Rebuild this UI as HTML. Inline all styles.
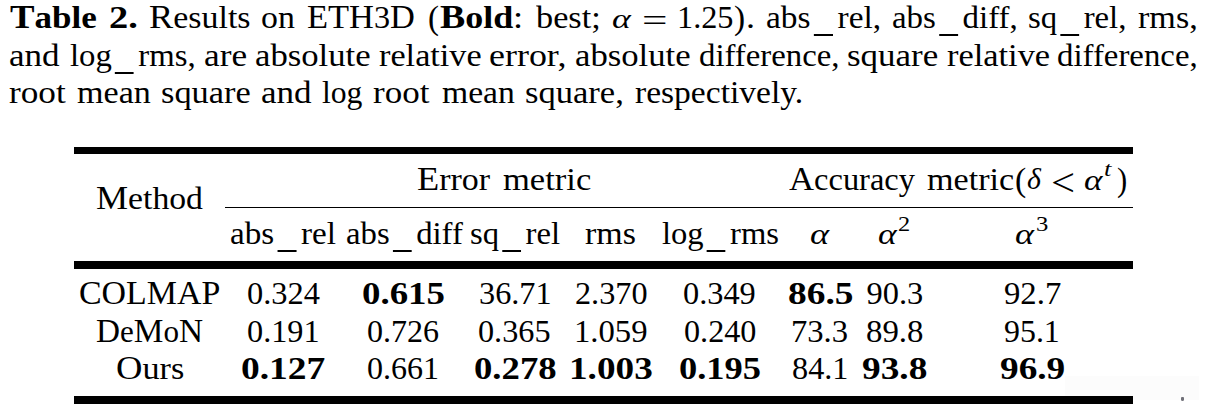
<!DOCTYPE html>
<html><head><meta charset="utf-8"><title>Table 2</title><style>
.w{position:absolute;white-space:pre;line-height:0;font-family:"Liberation Serif",serif;transform-origin:0 0;color:#000}
.b{font-weight:bold}
.i{font-style:italic}
.C{font-size:1.070em}
.b .C{font-size:1.050em}
.u{display:inline-block;width:0.58em;height:0.06em;background:#000;vertical-align:-0.255em;margin:0 0.13em 0 0.1em}
.r{position:absolute;background:#000}html,body{margin:0;padding:0;background:#fff;width:1209px;height:410px;overflow:hidden;position:relative}</style></head><body>
<div style="position:absolute;left:1065px;top:376px;width:134px;height:24px;background:#fcfcfc"></div>
<div class="w b" style="left:9.74px;top:17.00px;font-size:31.4px;transform:scaleX(1.1150);"><span class="C">T</span>able</div>
<div class="w b" style="left:108.85px;top:17.00px;font-size:32.0px;transform:scaleX(1.2000);">2.</div>
<div class="w" style="left:149.22px;top:17.00px;font-size:31.4px;transform:scaleX(1.0812);"><span class="C">R</span>esults</div>
<div class="w" style="left:261.45px;top:18.00px;font-size:31.4px;transform:scaleX(1.0768);">on</div>
<div class="w" style="left:307.07px;top:17.00px;font-size:31.4px;transform:scaleX(1.0255);"><span class="C">ETH</span>3<span class="C">D</span></div>
<div class="w" style="left:428.28px;top:17.05px;font-size:32px;transform:scale(1.0303,1.0655);">(</div>
<div class="w b" style="left:440.03px;top:17.00px;font-size:31.4px;transform:scaleX(1.1476);"><span class="C">B</span>old</div>
<div class="w" style="left:513.00px;top:18.00px;font-size:31.4px;transform:scaleX(1.1586);">:</div>
<div class="w" style="left:536.20px;top:18.00px;font-size:31.4px;transform:scaleX(1.0919);">best;</div>
<div class="w i" style="left:611.58px;top:18.28px;font-size:32px;transform:scale(1.1200,0.8839);">α</div>
<div class="w" style="left:642.21px;top:20.38px;font-size:32px;transform:scaleX(1.4118);">=</div>
<div class="w" style="left:677.14px;top:17.00px;font-size:32.4px;transform:scaleX(0.9962);">1.25</div>
<div class="w" style="left:733.96px;top:17.17px;font-size:32px;transform:scale(1.0424,1.0586);">)</div>
<div class="w" style="left:746.34px;top:17.00px;font-size:32.4px;transform:scaleX(1.1097);">.</div>
<div class="w" style="left:766.40px;top:18.00px;font-size:31.4px;transform:scaleX(1.0635);">abs<span class="u"></span>rel,</div>
<div class="w" style="left:892.22px;top:18.00px;font-size:31.4px;transform:scaleX(1.0493);">abs<span class="u"></span>diff,</div>
<div class="w" style="left:1027.80px;top:18.00px;font-size:31.4px;transform:scaleX(1.0436);">sq<span class="u"></span>rel,</div>
<div class="w" style="left:1138.12px;top:18.00px;font-size:31.4px;transform:scaleX(1.0864);">rms,</div>
<div class="w" style="left:9.04px;top:56.00px;font-size:31.4px;transform:scaleX(1.1168);">and</div>
<div class="w" style="left:69.65px;top:56.00px;font-size:31.4px;transform:scaleX(1.0426);">log<span class="u"></span>rms,</div>
<div class="w" style="left:203.54px;top:56.00px;font-size:31.4px;transform:scaleX(1.1239);">are</div>
<div class="w" style="left:254.96px;top:56.00px;font-size:31.4px;transform:scaleX(1.1057);">absolute</div>
<div class="w" style="left:379.02px;top:56.00px;font-size:31.4px;transform:scaleX(1.0912);">relative</div>
<div class="w" style="left:489.27px;top:56.00px;font-size:31.4px;transform:scaleX(1.1449);">error,</div>
<div class="w" style="left:575.26px;top:56.00px;font-size:31.4px;transform:scaleX(1.1057);">absolute</div>
<div class="w" style="left:698.82px;top:56.00px;font-size:31.4px;transform:scaleX(1.0451);">difference,</div>
<div class="w" style="left:847.21px;top:56.00px;font-size:31.4px;transform:scaleX(1.1140);">square</div>
<div class="w" style="left:946.62px;top:56.00px;font-size:31.4px;transform:scaleX(1.0955);">relative</div>
<div class="w" style="left:1057.42px;top:56.00px;font-size:31.4px;transform:scaleX(1.0459);">difference,</div>
<div class="w" style="left:8.90px;top:93.00px;font-size:31.4px;transform:scaleX(1.1216);">root</div>
<div class="w" style="left:76.92px;top:93.00px;font-size:31.4px;transform:scaleX(1.0856);">mean</div>
<div class="w" style="left:160.93px;top:93.00px;font-size:31.4px;transform:scaleX(1.0951);">square</div>
<div class="w" style="left:260.84px;top:93.00px;font-size:31.4px;transform:scaleX(1.1168);">and</div>
<div class="w" style="left:322.37px;top:93.00px;font-size:31.4px;transform:scaleX(1.0084);">log</div>
<div class="w" style="left:373.40px;top:93.00px;font-size:31.4px;transform:scaleX(1.1156);">root</div>
<div class="w" style="left:442.03px;top:93.00px;font-size:31.4px;transform:scaleX(1.0721);">mean</div>
<div class="w" style="left:525.42px;top:93.00px;font-size:31.4px;transform:scaleX(1.1006);">square,</div>
<div class="w" style="left:634.53px;top:93.00px;font-size:31.4px;transform:scaleX(1.0682);">respectively.</div>
<div class="w" style="left:96.33px;top:198.00px;font-size:31.4px;transform:scaleX(1.0738);"><span class="C">M</span>ethod</div>
<div class="w" style="left:417.32px;top:179.00px;font-size:31.4px;transform:scaleX(1.0823);"><span class="C">E</span>rror</div>
<div class="w" style="left:503.01px;top:180.00px;font-size:31.4px;transform:scaleX(1.1002);">metric</div>
<div class="w" style="left:788.81px;top:179.00px;font-size:31.4px;transform:scaleX(1.0340);"><span class="C">A</span>ccuracy</div>
<div class="w" style="left:926.62px;top:180.00px;font-size:31.4px;transform:scaleX(1.0874);">metric</div>
<div class="w" style="left:1015.25px;top:179.17px;font-size:32px;transform:scale(1.0545,1.0586);">(</div>
<div class="w i" style="left:1026.77px;top:179.45px;font-size:32px;transform:scale(0.9333,0.9407);">δ</div>
<div class="w" style="left:1051.04px;top:182.37px;font-size:32px;transform:scale(1.3311,1.2423);">&lt;</div>
<div class="w i" style="left:1084.30px;top:179.94px;font-size:32px;transform:scale(1.1015,0.8968);">α</div>
<div class="w i" style="left:1104.37px;top:168.78px;font-size:32px;transform:scale(0.8246,0.6476);">t</div>
<div class="w" style="left:1116.74px;top:179.17px;font-size:32px;transform:scale(0.9576,1.0586);">)</div>
<div class="w" style="left:230.01px;top:234.00px;font-size:31.4px;transform:scaleX(1.0565);">abs<span class="u"></span>rel</div>
<div class="w" style="left:345.53px;top:234.00px;font-size:31.4px;transform:scaleX(1.0426);">abs<span class="u"></span>diff</div>
<div class="w" style="left:469.70px;top:234.00px;font-size:31.4px;transform:scaleX(1.0411);">sq<span class="u"></span>rel</div>
<div class="w" style="left:585.22px;top:234.00px;font-size:31.4px;transform:scaleX(1.0821);">rms</div>
<div class="w" style="left:661.85px;top:234.00px;font-size:31.4px;transform:scaleX(1.0381);">log<span class="u"></span>rms</div>
<div class="w i" style="left:810.06px;top:234.14px;font-size:32px;transform:scale(1.1385,0.8968);">α</div>
<div class="w i" style="left:877.69px;top:234.14px;font-size:32px;transform:scale(1.1138,0.8968);">α</div>
<div class="w" style="left:898.15px;top:224.22px;font-size:32px;transform:scale(0.7612,0.6306);">2</div>
<div class="w i" style="left:1014.97px;top:234.14px;font-size:32px;transform:scale(1.1323,0.8968);">α</div>
<div class="w" style="left:1035.85px;top:224.39px;font-size:32px;transform:scale(0.7698,0.6465);">3</div>
<div class="w" style="left:78.91px;top:293.00px;font-size:31.4px;transform:scaleX(1.0098);"><span class="C">COLMAP</span></div>
<div class="w" style="left:246.55px;top:293.00px;font-size:32.4px;transform:scaleX(1.0011);">0.324</div>
<div class="w b" style="left:361.56px;top:293.00px;font-size:32.0px;transform:scaleX(1.1519);">0.615</div>
<div class="w" style="left:478.71px;top:293.00px;font-size:32.4px;transform:scaleX(0.9957);">36.71</div>
<div class="w" style="left:574.73px;top:293.00px;font-size:32.4px;transform:scaleX(0.9950);">2.370</div>
<div class="w" style="left:683.45px;top:293.00px;font-size:32.4px;transform:scaleX(0.9989);">0.349</div>
<div class="w b" style="left:787.69px;top:293.00px;font-size:32.0px;transform:scaleX(1.1684);">86.5</div>
<div class="w" style="left:866.50px;top:293.00px;font-size:32.4px;">90.3</div>
<div class="w" style="left:1004.29px;top:293.00px;font-size:32.4px;transform:scaleX(1.0100);">92.7</div>
<div class="w" style="left:95.91px;top:331.00px;font-size:31.4px;transform:scaleX(0.9911);"><span class="C">D</span>e<span class="C">M</span>o<span class="C">N</span></div>
<div class="w" style="left:246.55px;top:331.00px;font-size:32.4px;transform:scaleX(0.9964);">0.191</div>
<div class="w" style="left:366.66px;top:331.00px;font-size:32.4px;transform:scaleX(0.9897);">0.726</div>
<div class="w" style="left:478.16px;top:331.00px;font-size:32.4px;transform:scaleX(0.9947);">0.365</div>
<div class="w" style="left:574.10px;top:331.00px;font-size:32.4px;transform:scaleX(1.0095);">1.059</div>
<div class="w" style="left:683.76px;top:331.00px;font-size:32.4px;transform:scaleX(0.9933);">0.240</div>
<div class="w" style="left:791.26px;top:331.00px;font-size:32.4px;transform:scaleX(1.0066);">73.3</div>
<div class="w" style="left:866.23px;top:331.00px;font-size:32.4px;transform:scaleX(1.0138);">89.8</div>
<div class="w" style="left:1004.32px;top:331.00px;font-size:32.4px;transform:scaleX(0.9842);">95.1</div>
<div class="w" style="left:116.00px;top:368.00px;font-size:31.4px;transform:scaleX(1.0894);"><span class="C">O</span>urs</div>
<div class="w b" style="left:241.34px;top:368.00px;font-size:32.0px;transform:scaleX(1.1714);">0.127</div>
<div class="w" style="left:366.66px;top:368.00px;font-size:32.4px;transform:scaleX(0.9892);">0.661</div>
<div class="w b" style="left:473.57px;top:368.00px;font-size:32.0px;transform:scaleX(1.1476);">0.278</div>
<div class="w b" style="left:568.55px;top:368.00px;font-size:32.0px;transform:scaleX(1.1634);">1.003</div>
<div class="w b" style="left:678.57px;top:368.00px;font-size:32.0px;transform:scaleX(1.1404);">0.195</div>
<div class="w" style="left:791.85px;top:368.00px;font-size:32.4px;transform:scaleX(0.9963);">84.1</div>
<div class="w b" style="left:862.38px;top:368.00px;font-size:32.0px;transform:scaleX(1.1667);">93.8</div>
<div class="w b" style="left:1000.18px;top:368.00px;font-size:32.0px;transform:scaleX(1.1648);">96.9</div>
<div class="r" style="left:74px;top:147px;width:1059px;height:7.00px"></div>
<div class="r" style="left:225px;top:206.9px;width:908px;height:1.20px"></div>
<div class="r" style="left:74px;top:261px;width:1059px;height:7.80px"></div>
<div class="r" style="left:74px;top:396px;width:1059px;height:7.80px"></div>
<div style="position:absolute;left:1180.5px;top:397px;width:3px;height:4px;background:#707078;border-radius:1px 1px 1.5px 1.5px"></div>
</body></html>
